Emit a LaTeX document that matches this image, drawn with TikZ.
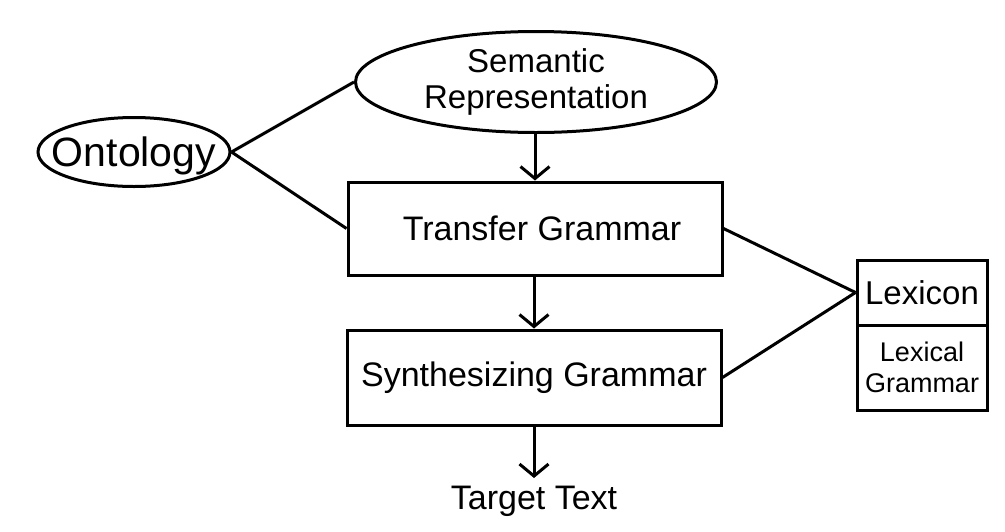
\documentclass[tikz,border=0pt]{standalone}
\usepackage{fontspec}
\setmainfont{Liberation Sans}
\usetikzlibrary{arrows.meta, shapes.geometric}

\tikzset{
	box/.style={draw, rectangle, line width=3pt, inner sep=0pt, align=center},
	oval/.style={draw, ellipse, line width=3pt, inner sep=0pt, align=center},
	link/.style={line width=3pt},
	flow/.style={line width=3pt, -{Straight Barb[length=12pt, width=29pt]}},
	big/.style={font=\fontsize{33}{36}\selectfont},
	bigger/.style={font=\fontsize{34}{37}\selectfont}
}

\begin{document}
\begin{tikzpicture}[x=1pt, y=-1pt]
		\useasboundingbox (0, 0) rectangle (1005, 531);

		% ellipses
		\node[oval, big, minimum width=361pt, minimum height=101pt] (sem) at (536, 82) {Semantic\\Representation};
		\node[oval, minimum width=192pt, minimum height=69pt,
			label={[font=\fontsize{41}{44}\selectfont, yshift=-4pt]center:Ontology}] (ont) at (134, 152) {};

		% grammar boxes
		\node[box, bigger, minimum width=374pt, minimum height=93pt] (trans) at (535, 228.5) {\hspace{14pt}Transfer Grammar};
		\node[box, bigger, minimum width=374pt, minimum height=95pt] (synth) at (534, 377.5) {Synthesizing Grammar};

		% lexicon
		\node[box, big, minimum width=130pt, minimum height=65pt] (lex) at (922, 292.5) {Lexicon};
		\node[box, minimum width=130pt, minimum height=85pt, font=\fontsize{27}{31}\selectfont] (lexgr) at (922, 367.5) {Lexical\\Grammar};

		% output
		\node[bigger, anchor=north, inner xsep=0pt, inner ysep=8pt] (target) at (534, 478) {Target Text};

		% arrows
		\draw[flow] (sem.south -| trans.north) -- (trans.north);
		\draw[flow] (trans.south -| synth.north) -- (synth.north);
		\draw[flow] (synth.south) -- (target.north);

		% lines
		\draw[link] (ont.east) -- (sem.west);
		\draw[link] (ont.east) -- (trans.west);
		\draw[link] (trans.east) -- (lex.west);
		\draw[link] (synth.east) -- (lex.west);
\end{tikzpicture}
\end{document}
